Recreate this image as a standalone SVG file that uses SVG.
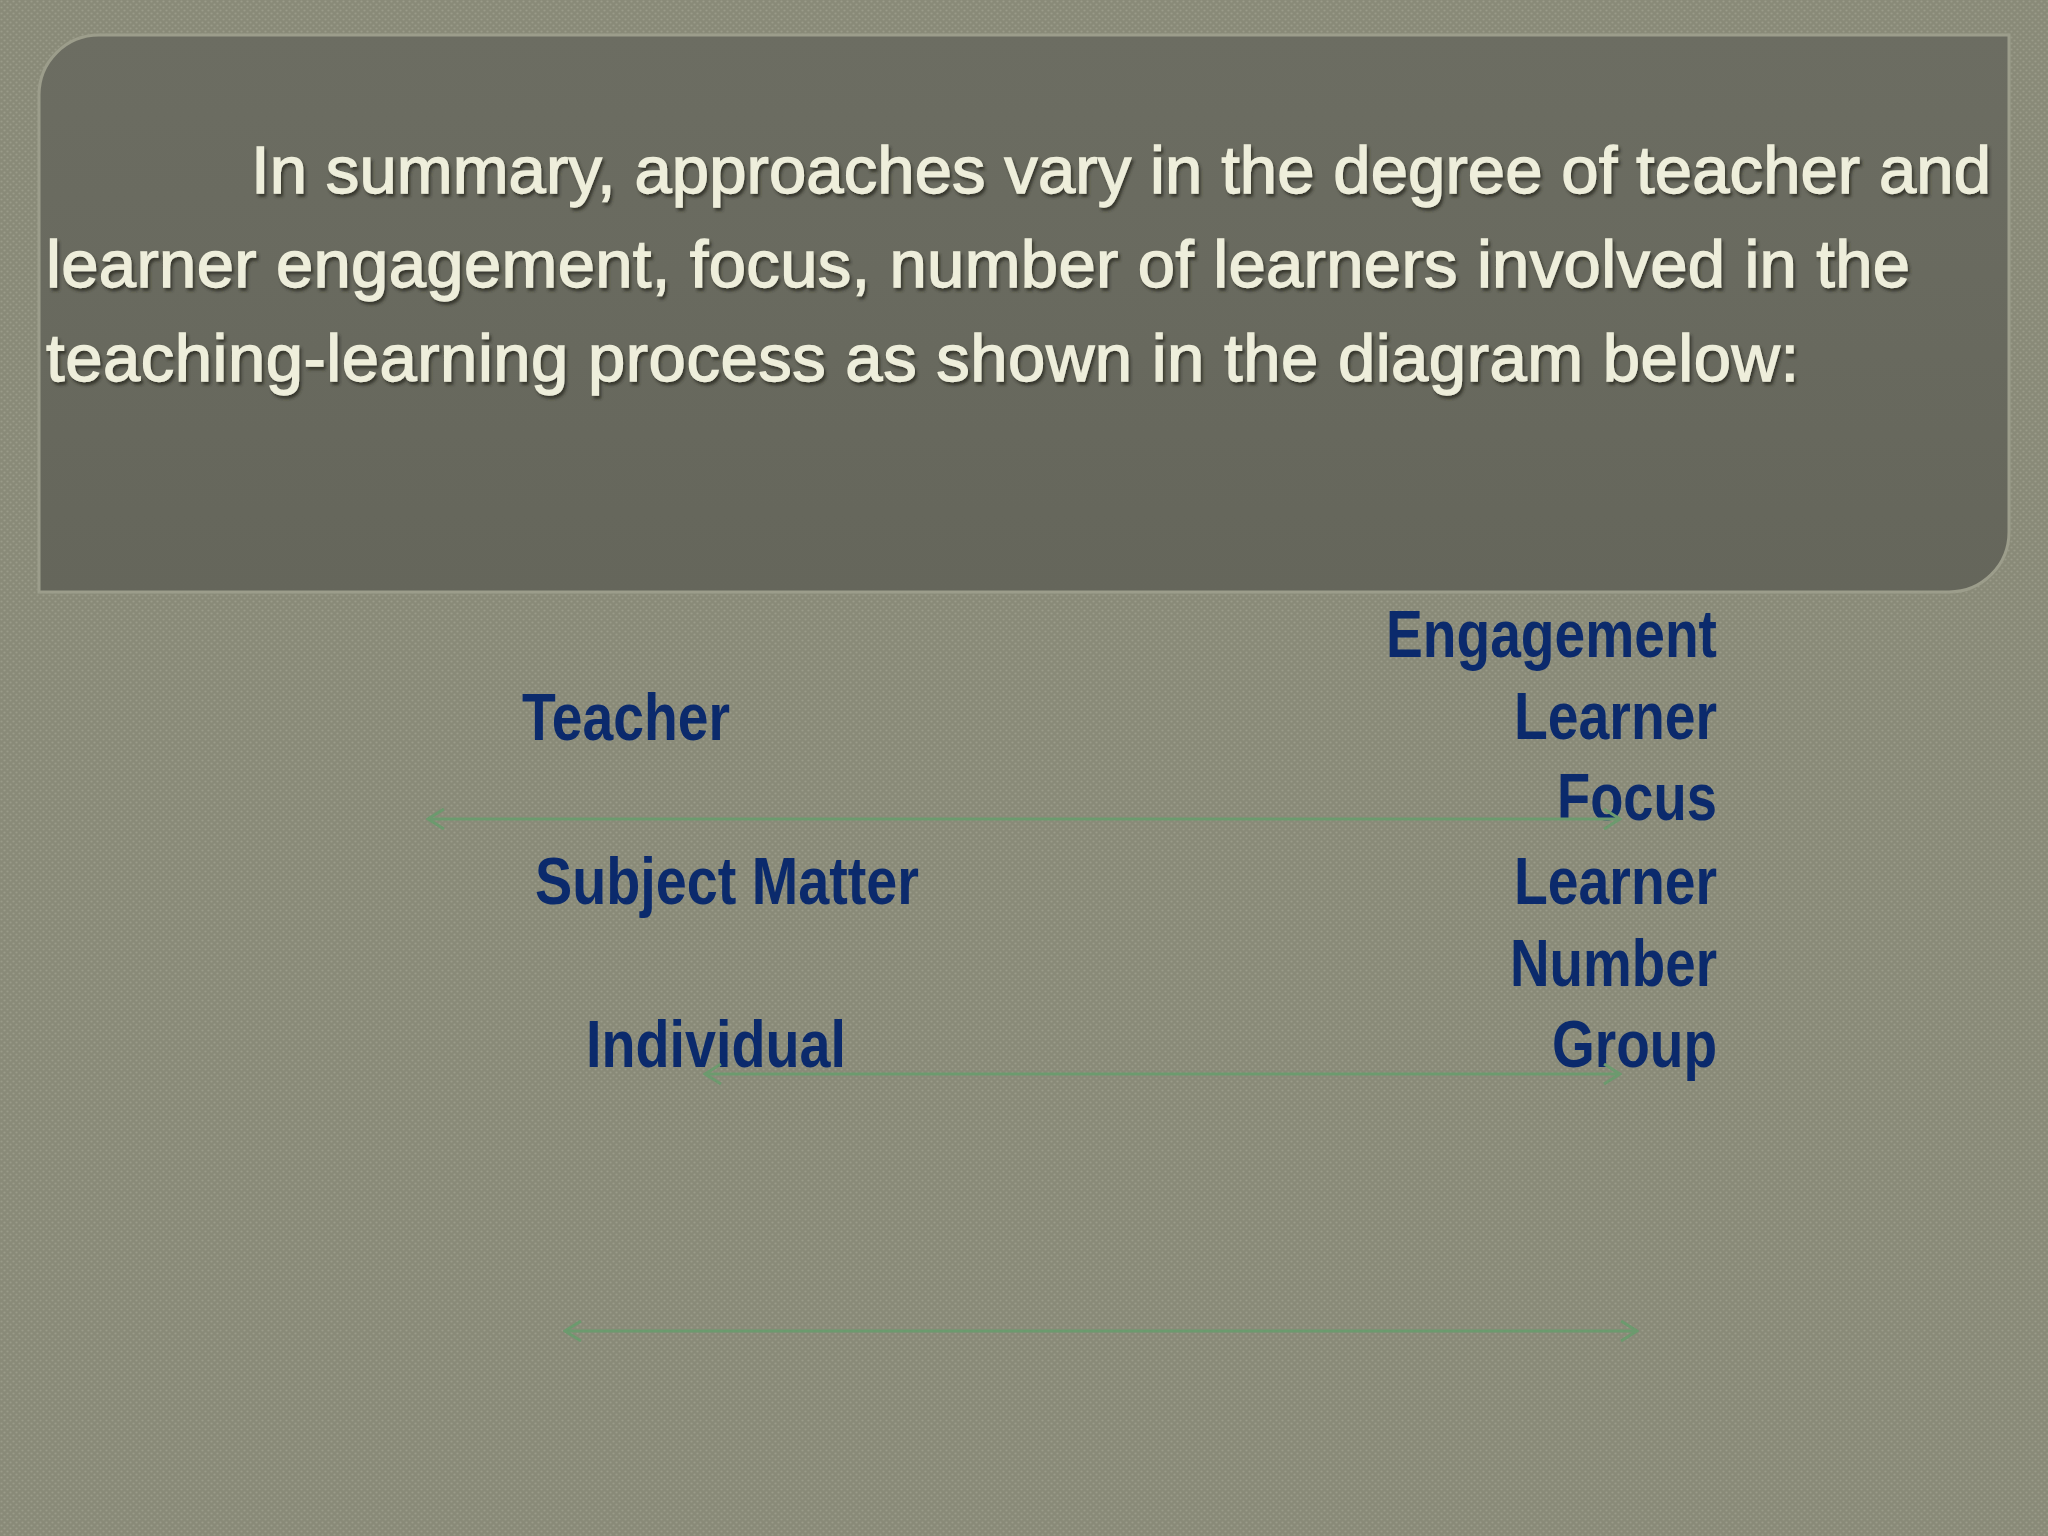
<svg xmlns="http://www.w3.org/2000/svg" width="2048" height="1536" viewBox="0 0 2048 1536">
  <defs>
    <pattern id="tex" width="6" height="6" patternUnits="userSpaceOnUse">
      <rect width="6" height="6" fill="#898a78"/>
      <circle cx="1.5" cy="1.5" r="1.1" fill="#9a9b89"/>
      <circle cx="4.5" cy="4.5" r="1.1" fill="#9a9b89"/>
    </pattern>
    <linearGradient id="panelGrad" x1="0" y1="0" x2="0" y2="1">
      <stop offset="0" stop-color="#6c6d62"/>
      <stop offset="1" stop-color="#65665b"/>
    </linearGradient>
    <filter id="emboss" x="-5%" y="-20%" width="110%" height="140%">
      <feDropShadow dx="2" dy="3" stdDeviation="1.5" flood-color="#2e2f28" flood-opacity="0.85"/>
    </filter>
    <marker id="ah" viewBox="0 0 22 22" refX="20" refY="11" markerWidth="22" markerHeight="22" orient="auto-start-reverse" markerUnits="userSpaceOnUse">
      <path d="M4 1 L20 11 L4 21" fill="none" stroke="#6c9a6e" stroke-width="3"/>
    </marker>
    <style>
      .title { font-family: "Liberation Sans", Arial, sans-serif; font-size: 67px; fill: #eeeedb; stroke: #eeeedb; stroke-width: 1.3px; }
      .lbl { font-family: "Liberation Sans Narrow", "Liberation Sans", Arial, sans-serif; font-weight: bold; font-size: 67px; fill: #0b2a6c; }
      .conn { stroke: #6c9a6e; stroke-width: 3; fill: none; marker-start: url(#ah); marker-end: url(#ah); }
    </style>
  </defs>

  <rect width="2048" height="1536" fill="url(#tex)"/>

  <g id="summary-panel">
    <path d="M99 35 H2009 V532 A60 60 0 0 1 1949 592 H39 V95 A60 60 0 0 1 99 35 Z" fill="url(#panelGrad)" stroke="#9c9d8b" stroke-width="3"/>
    <g filter="url(#emboss)">
      <text class="title" x="251" y="193" textLength="1740">In summary, approaches vary in the degree of teacher and</text>
      <text class="title" x="46" y="287" textLength="1864">learner engagement, focus, number of learners involved in the</text>
      <text class="title" x="46" y="381" textLength="1753">teaching-learning process as shown in the diagram below:</text>
    </g>
  </g>

  <g id="node-teacher"><text class="lbl" x="522" y="740" textLength="208" lengthAdjust="spacingAndGlyphs">Teacher</text></g>
  <g id="node-subject-matter"><text class="lbl" x="535" y="904" textLength="384" lengthAdjust="spacingAndGlyphs">Subject Matter</text></g>
  <g id="node-individual"><text class="lbl" x="586" y="1067" textLength="260" lengthAdjust="spacingAndGlyphs">Individual</text></g>

  <g id="node-engagement"><text class="lbl" x="1386" y="657" textLength="331" lengthAdjust="spacingAndGlyphs">Engagement</text></g>
  <g id="node-learner-1"><text class="lbl" x="1514" y="739" textLength="203" lengthAdjust="spacingAndGlyphs">Learner</text></g>
  <g id="node-focus"><text class="lbl" x="1557" y="820" textLength="160" lengthAdjust="spacingAndGlyphs">Focus</text></g>
  <g id="node-learner-2"><text class="lbl" x="1514" y="904" textLength="203" lengthAdjust="spacingAndGlyphs">Learner</text></g>
  <g id="node-number"><text class="lbl" x="1510" y="986" textLength="207" lengthAdjust="spacingAndGlyphs">Number</text></g>
  <g id="node-group"><text class="lbl" x="1552" y="1067" textLength="165" lengthAdjust="spacingAndGlyphs">Group</text></g>

  <g id="connectors">
    <path class="conn" d="M428 819 H1620"/>
    <path class="conn" d="M705 1074 H1620"/>
    <path class="conn" d="M565 1331 H1637"/>
  </g>
</svg>
